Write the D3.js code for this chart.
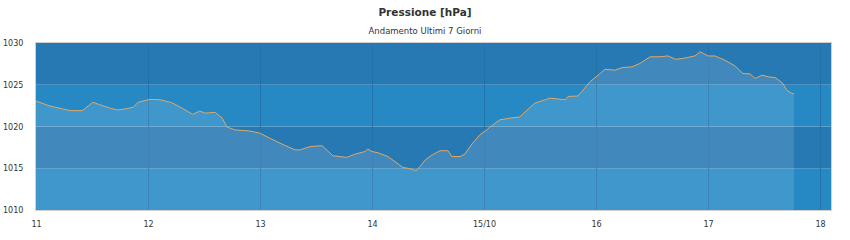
<!DOCTYPE html>
<html>
<head>
<meta charset="utf-8">
<script src="https://cdn.jsdelivr.net/npm/d3@7"></script>
<style>
  html, body { margin: 0; padding: 0; background: #fff; }
  svg { display: block; font-family: "DejaVu Sans", sans-serif; }
</style>
</head>
<body>
<svg id="chart" width="850" height="240"></svg>
<script>
// Hours elapsed since midnight of day 11, and the pressure reading (hPa) at that time
const hours = [0, 3.0, 7.3, 9.9, 12.2, 13.7, 15.9, 17.4, 19.1, 20.8, 21.9, 24.4, 26.6, 29.1, 31.3, 33.6, 35.1,
  36.2, 38.4, 39.9, 40.9, 42.6, 45.9, 48.0, 50.1, 52.3, 55.5, 56.6, 58.7, 61.3, 63.6, 66.6, 68.4,
  70.5, 71.1, 72.0, 73.3, 75.4, 76.9, 78.6, 80.6, 81.4, 82.3, 83.4, 84.9, 86.6, 88.3, 89.1, 90.9,
  91.9, 93.4, 95.1, 96.6, 97.3, 99.4, 101.6, 103.7, 104.8, 106.9, 109.1, 110.1, 113.4, 114.0, 116.1,
  117.0, 118.7, 120.9, 121.9, 124.1, 125.6, 127.7, 129.4, 131.6, 133.7, 135.4, 137.1, 138.6, 141.2,
  142.3, 144.0, 145.5, 147.6, 149.8, 151.5, 153.0, 154.1, 155.6, 156.9, 158.4, 159.9, 160.9, 162.0, 162.4];
const pressure = [1023.05, 1022.45, 1021.9, 1021.9, 1022.9, 1022.6, 1022.2, 1021.98, 1022.1, 1022.3, 1022.9,
  1023.25, 1023.2, 1022.85, 1022.2, 1021.45, 1021.85, 1021.6, 1021.7, 1021.0, 1019.95, 1019.6, 1019.45,
  1019.2, 1018.6, 1018.0, 1017.2, 1017.2, 1017.6, 1017.7, 1016.5, 1016.3, 1016.7, 1017.0, 1017.3, 1017.0,
  1016.85, 1016.4, 1015.8, 1015.1, 1014.9, 1014.7, 1015.2, 1016.0, 1016.6, 1017.1, 1017.1, 1016.4, 1016.4,
  1016.7, 1017.9, 1019.0, 1019.6, 1019.95, 1020.8, 1021.0, 1021.15, 1021.75, 1022.8, 1023.2, 1023.4,
  1023.2, 1023.6, 1023.65, 1024.2, 1025.35, 1026.35, 1026.85, 1026.75, 1027.05, 1027.15, 1027.55,
  1028.35, 1028.35, 1028.45, 1028.05, 1028.15, 1028.45, 1028.95, 1028.45, 1028.45, 1027.95, 1027.25,
  1026.35, 1026.3, 1025.75, 1026.15, 1025.95, 1025.85, 1025.25, 1024.35, 1023.95, 1023.95];

// Axis ticks
const dayTicks = [0, 1, 2, 3, 4, 5, 6, 7];
const dayLabels = ["11", "12", "13", "14", "15/10", "16", "17", "18"];
const pressureTicks = [1010, 1015, 1020, 1025, 1030];

const title = "Pressione [hPa]";
const subtitle = "Andamento Ultimi 7 Giorni";

const svg = d3.select("#chart");
const plotLeft = 36, plotRight = 831, plotTop = 43, plotBottom = 210;

const x = d3.scaleLinear().domain([0, 7]).range([plotLeft, 820]);
const y = d3.scaleLinear().domain([1010, 1030]).range([plotBottom, plotTop]);

// Titles
svg.append("text").attr("x", 425).attr("y", 16).attr("text-anchor", "middle")
  .attr("font-size", 10.5).attr("font-weight", "bold").attr("fill", "#333").text(title);
svg.append("text").attr("x", 425).attr("y", 34).attr("text-anchor", "middle")
  .attr("font-size", 8.5).attr("fill", "#333").text(subtitle);

// Alternating horizontal bands
const bands = d3.pairs(pressureTicks);
svg.append("g").selectAll("rect").data(bands).join("rect")
  .attr("x", plotLeft).attr("width", plotRight - plotLeft)
  .attr("y", d => y(d[1])).attr("height", d => y(d[0]) - y(d[1]))
  .attr("fill", (d, i) => i % 2 === 0 ? "#2689c4" : "#2779b3");

// Vertical day grid lines
svg.append("g").selectAll("line").data(dayTicks.slice(1)).join("line")
  .attr("x1", d => x(d) + 0.5).attr("x2", d => x(d) + 0.5)
  .attr("y1", plotTop).attr("y2", plotBottom)
  .attr("stroke", "#2572aa").attr("stroke-width", 1);

const data = hours.map((h, i) => ({ d: h / 24, p: pressure[i] }));

// Area below the curve
svg.append("path").datum(data)
  .attr("d", d3.area().x(d => x(d.d)).y0(plotBottom).y1(d => y(d.p)))
  .attr("fill", "#ffffff").attr("fill-opacity", 0.12);

// Pressure line
svg.append("path").datum(data)
  .attr("d", d3.line().x(d => x(d.d)).y(d => y(d.p)))
  .attr("fill", "none").attr("stroke", "#e0a868").attr("stroke-width", 1);

// Plot frame
svg.append("rect").attr("x", plotLeft - 0.5).attr("y", plotTop - 0.5)
  .attr("width", plotRight - plotLeft + 1).attr("height", plotBottom - plotTop + 1)
  .attr("fill", "none").attr("stroke", "#d0d0d0").attr("stroke-width", 1);

// Y axis labels
const yAxis = d3.axisLeft(y).tickValues(pressureTicks).tickSize(0).tickPadding(0)
  .tickFormat(d3.format("d"));
const gy = svg.append("g").attr("transform", "translate(3,0)").call(yAxis);
gy.select(".domain").remove();
gy.selectAll("text").attr("text-anchor", "start").attr("x", 0)
  .attr("font-size", 8).attr("fill", "#333").attr("font-family", "DejaVu Sans, sans-serif");

// X axis labels
const xAxis = d3.axisBottom(x).tickValues(dayTicks).tickSize(0).tickPadding(0)
  .tickFormat((d, i) => dayLabels[i]);
const gx = svg.append("g").attr("transform", `translate(0,${plotBottom + 11})`).call(xAxis);
gx.select(".domain").remove();
gx.selectAll("text").attr("font-size", 8).attr("fill", "#333")
  .attr("font-family", "DejaVu Sans, sans-serif");
</script>
</body>
</html>
